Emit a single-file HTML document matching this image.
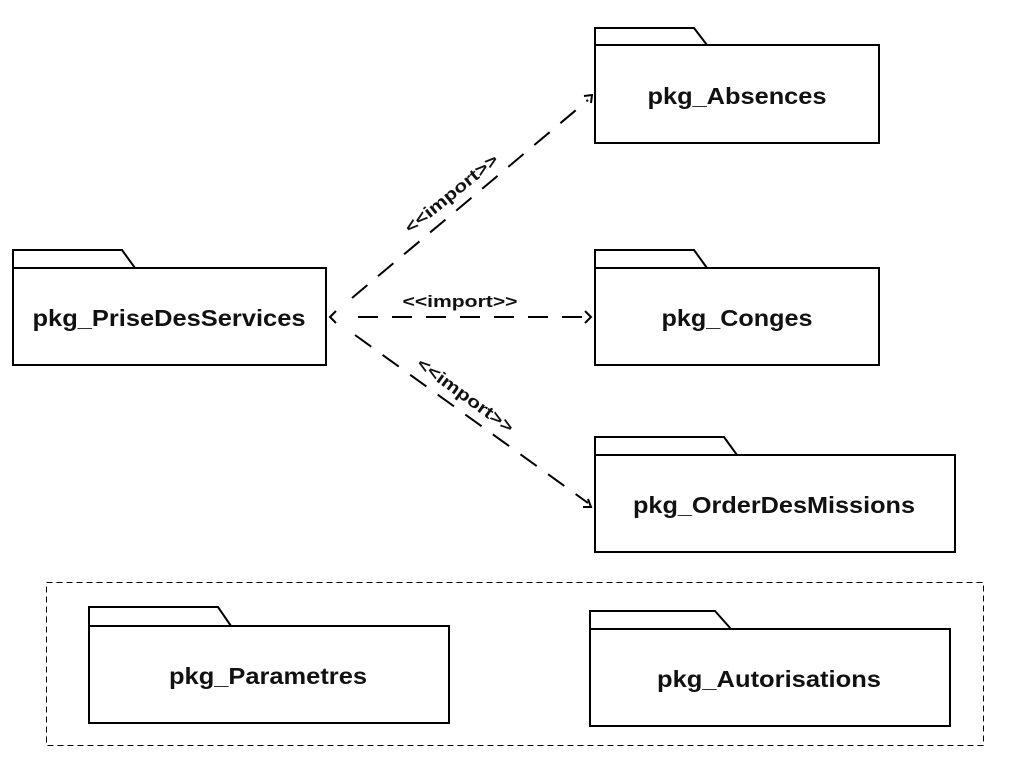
<!DOCTYPE html>
<html><head><style>html,body{margin:0;padding:0;background:#fff;}svg{display:block}</style></head>
<body>
<svg width="1030" height="763" viewBox="0 0 1030 763" xmlns="http://www.w3.org/2000/svg" font-family="Liberation Sans, sans-serif" font-weight="bold">
<g fill="#fff" stroke="#000" stroke-width="2">
<path d="M595 45 V28 H694 L707 45"/><rect x="595" y="45" width="284" height="98"/>
<path d="M595 268 V250 H694 L707 268"/><rect x="595" y="268" width="284" height="97"/>
<path d="M595 455 V437 H724 L737 455"/><rect x="595" y="455" width="360" height="97"/>
<path d="M13 268 V250 H122 L135 268"/><rect x="13" y="268" width="313" height="97"/>
<path d="M89 626 V607 H218 L231 626"/><rect x="89" y="626" width="360" height="97"/>
<path d="M590 629 V611 H715 L731 629"/><rect x="590" y="629" width="360" height="97"/>
</g>
<rect x="46.5" y="582.5" width="937" height="163" fill="none" stroke="#000" stroke-width="1" stroke-dasharray="6,4"/>
<g font-size="23" text-anchor="middle" fill="#111" lengthAdjust="spacingAndGlyphs">
<text x="737" y="104" textLength="179" lengthAdjust="spacingAndGlyphs">pkg_Absences</text>
<text x="737" y="326" textLength="151" lengthAdjust="spacingAndGlyphs">pkg_Conges</text>
<text x="774" y="513" textLength="282" lengthAdjust="spacingAndGlyphs">pkg_OrderDesMissions</text>
<text x="169" y="326" textLength="273" lengthAdjust="spacingAndGlyphs">pkg_PriseDesServices</text>
<text x="268" y="684" textLength="198" lengthAdjust="spacingAndGlyphs">pkg_Parametres</text>
<text x="769" y="687" textLength="224" lengthAdjust="spacingAndGlyphs">pkg_Autorisations</text>
</g>
<g stroke="#000" stroke-width="2" fill="none" stroke-dasharray="20,14">
<line x1="352" y1="298" x2="588" y2="100"/>
<line x1="358" y1="317" x2="590" y2="317"/>
<line x1="355" y1="335" x2="588" y2="503"/>
</g>
<g stroke="#000" stroke-width="2" fill="none">
<path d="M336 311 L330 317 L336 323"/>
<path d="M585 311 L591 317 L585 323"/>
<path d="M584 96 L592 95 L591 103"/>
<path d="M583 507 L591 507 L588 499"/>
</g>
<g font-size="17" fill="#111" text-anchor="middle">
<text x="460" y="307" textLength="115" lengthAdjust="spacingAndGlyphs">&lt;&lt;import&gt;&gt;</text>
<text transform="translate(455,198) rotate(-39)" textLength="115" lengthAdjust="spacingAndGlyphs">&lt;&lt;import&gt;&gt;</text>
<text transform="translate(462,400) rotate(36)" textLength="115" lengthAdjust="spacingAndGlyphs">&lt;&lt;import&gt;&gt;</text>
</g>
</svg>
</body></html>
